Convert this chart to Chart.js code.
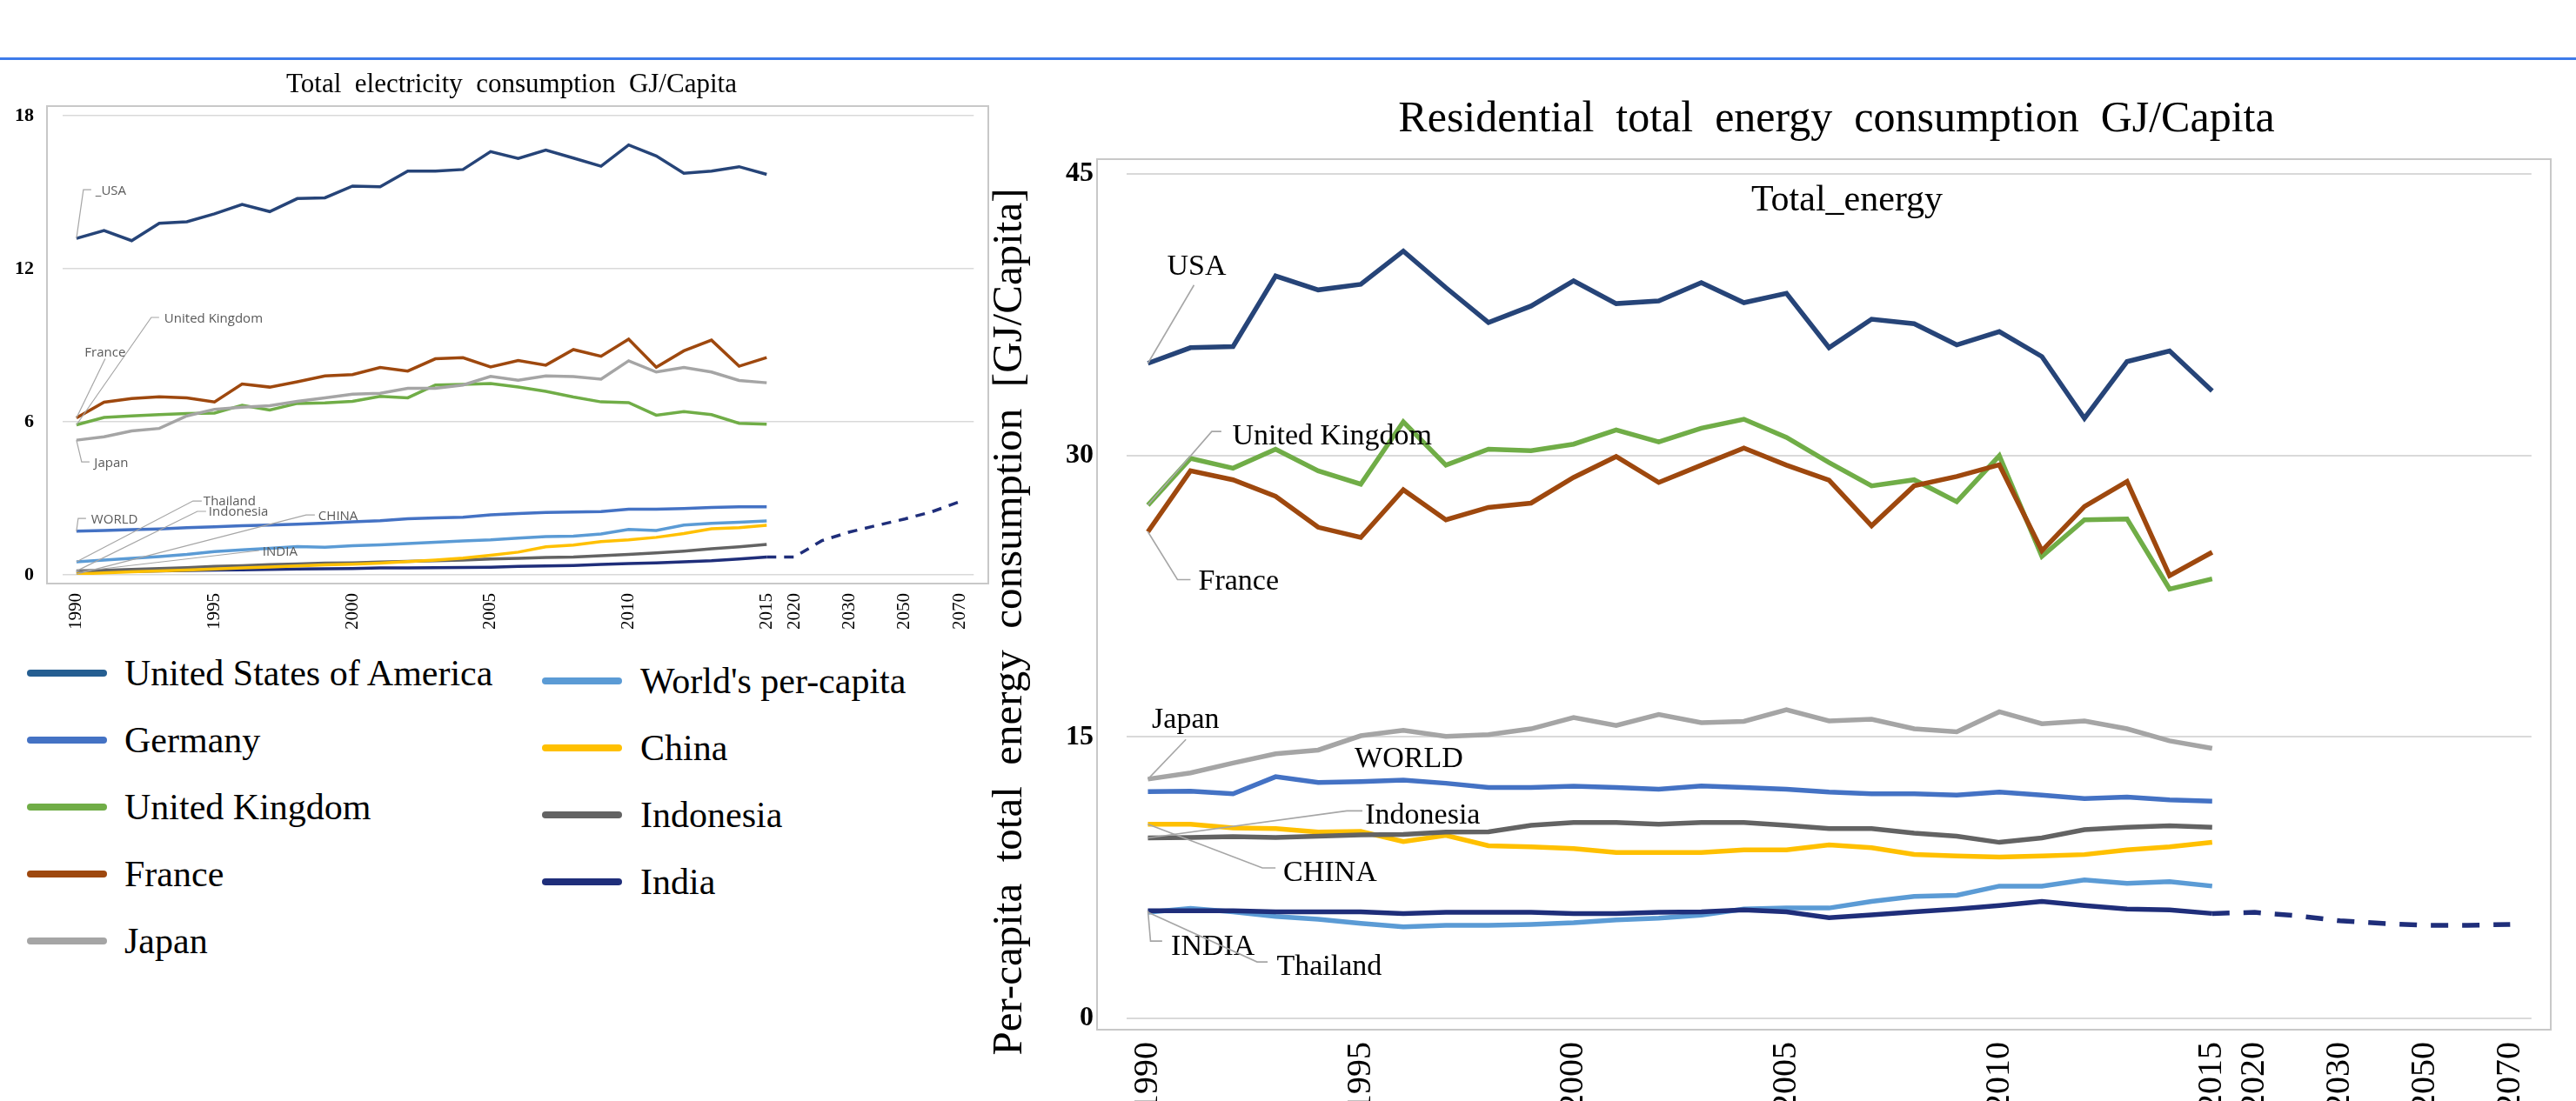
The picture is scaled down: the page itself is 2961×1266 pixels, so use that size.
<!DOCTYPE html>
<html><head><meta charset="utf-8">
<script src="https://cdn.jsdelivr.net/npm/chart.js@4.4.0/dist/chart.umd.min.js"></script>
<style>
html,body{margin:0;padding:0;background:#fff;}
body{width:2961px;height:1266px;position:relative;overflow:hidden;font-family:"Liberation Serif","Times New Roman",serif;}
.abs{position:absolute;}
.txt{position:absolute;white-space:pre;line-height:1;color:#000;font-family:"Liberation Serif","Times New Roman",serif;}
</style></head><body>
<div class="abs" style="left:0;top:66px;width:2961px;height:3px;background:#3D7BEA"></div>
<div class="abs" style="left:53px;top:121px;width:1084px;height:551px;border:2px solid #C8C8C8;box-sizing:border-box"></div>
<div class="abs" style="left:1260px;top:182px;width:1673px;height:1003px;border:2px solid #C8C8C8;box-sizing:border-box"></div>
<canvas id="cL" class="abs" width="1150" height="740" style="left:0;top:0;width:1150px;height:740px"></canvas>
<canvas id="cR" class="abs" width="1761" height="1266" style="left:1200px;top:0;width:1761px;height:1266px"></canvas>
<div id="texts"></div>
<script>
// ---------------- DATA ----------------
const years = ['1990','1991','1992','1993','1994','1995','1996','1997','1998','1999','2000','2001','2002','2003','2004','2005','2006','2007','2008','2009','2010','2011','2012','2013','2014','2015','2020','2025','2030','2040','2050','2060','2070'];
const shownYears = ['1990','1995','2000','2005','2010','2015','2020','2030','2050','2070'];

// Left chart: Total electricity consumption GJ/Capita (1990-2015)
const elecUSA = [13.19,13.5,13.1,13.78,13.84,14.15,14.52,14.24,14.75,14.78,15.24,15.21,15.83,15.83,15.89,16.59,16.32,16.65,16.34,16.02,16.85,16.42,15.74,15.83,16.0,15.7];
const elecUK = [5.88,6.17,6.23,6.28,6.32,6.34,6.65,6.46,6.72,6.74,6.8,7.0,6.94,7.44,7.47,7.5,7.36,7.19,6.97,6.78,6.75,6.26,6.4,6.28,5.94,5.91];
const elecFrance = [6.15,6.77,6.91,6.98,6.94,6.78,7.48,7.36,7.57,7.8,7.85,8.13,7.99,8.47,8.51,8.15,8.4,8.22,8.83,8.57,9.24,8.14,8.78,9.2,8.18,8.52];
const elecJapan = [5.28,5.41,5.64,5.74,6.23,6.49,6.57,6.63,6.8,6.94,7.08,7.12,7.31,7.31,7.44,7.78,7.63,7.8,7.77,7.67,8.39,7.95,8.13,7.95,7.62,7.53];
const elecWorld = [1.71,1.74,1.77,1.8,1.85,1.88,1.93,1.95,1.99,2.03,2.08,2.12,2.2,2.23,2.26,2.35,2.4,2.45,2.46,2.48,2.57,2.57,2.6,2.64,2.67,2.67];
const elecThailand = [0.51,0.58,0.65,0.72,0.8,0.91,0.98,1.04,1.11,1.08,1.14,1.18,1.23,1.28,1.33,1.37,1.44,1.5,1.52,1.6,1.78,1.74,1.95,2.02,2.06,2.11];
const elecChina = [0.03,0.08,0.12,0.15,0.19,0.23,0.27,0.31,0.35,0.39,0.42,0.46,0.52,0.58,0.66,0.77,0.89,1.1,1.17,1.3,1.37,1.47,1.62,1.81,1.85,1.94];
const elecIndonesia = [0.15,0.18,0.21,0.25,0.28,0.33,0.36,0.4,0.43,0.46,0.47,0.5,0.53,0.55,0.58,0.62,0.65,0.68,0.7,0.75,0.8,0.86,0.93,1.02,1.1,1.19];
const elecIndia = [0.12,0.13,0.14,0.15,0.17,0.19,0.2,0.21,0.23,0.24,0.25,0.27,0.27,0.28,0.29,0.3,0.33,0.35,0.37,0.41,0.44,0.47,0.51,0.55,0.62,0.7];
const elecIndiaProj = [0.7,0.7,1.34,1.68,1.94,2.19,2.48,2.87]; // 2015 .. 2070

// Right chart: Residential total energy consumption GJ/Capita (1990-2015)
const totUSA = [34.91,35.74,35.8,39.56,38.82,39.12,40.89,38.94,37.08,37.96,39.3,38.09,38.23,39.21,38.14,38.64,35.74,37.26,37.02,35.89,36.6,35.27,31.98,35.0,35.57,33.44];
const totUK = [27.35,29.84,29.32,30.33,29.18,28.47,31.79,29.48,30.33,30.25,30.6,31.36,30.72,31.45,31.93,30.96,29.62,28.38,28.7,27.53,29.98,24.62,26.57,26.61,22.88,23.42];
const totFrance = [25.93,29.18,28.7,27.82,26.17,25.63,28.17,26.57,27.23,27.46,28.83,29.94,28.56,29.48,30.39,29.48,28.68,26.25,28.38,28.88,29.5,24.92,27.28,28.61,23.59,24.84];
const totJapan = [12.75,13.08,13.61,14.1,14.3,15.06,15.35,15.03,15.12,15.43,16.03,15.61,16.19,15.76,15.83,16.45,15.85,15.94,15.43,15.27,16.34,15.7,15.85,15.43,14.79,14.39];
const totWorld = [12.08,12.11,11.97,12.88,12.57,12.62,12.7,12.53,12.3,12.3,12.37,12.3,12.21,12.39,12.3,12.21,12.06,11.97,11.97,11.9,12.06,11.9,11.71,11.79,11.64,11.57];
const totIndonesia = [9.62,9.64,9.69,9.64,9.71,9.78,9.8,9.93,9.94,10.29,10.44,10.44,10.35,10.44,10.44,10.29,10.11,10.11,9.87,9.71,9.38,9.62,10.06,10.18,10.26,10.18];
const totChina = [10.35,10.35,10.15,10.11,9.93,9.96,9.42,9.75,9.2,9.14,9.05,8.84,8.84,8.84,8.98,8.98,9.24,9.09,8.74,8.65,8.6,8.65,8.73,8.98,9.14,9.38];
const totThailand = [5.65,5.86,5.68,5.43,5.28,5.06,4.88,4.96,4.96,5.01,5.1,5.25,5.34,5.5,5.83,5.88,5.88,6.23,6.5,6.56,7.05,7.05,7.38,7.2,7.29,7.05];
const totIndia = [5.74,5.74,5.74,5.68,5.68,5.68,5.59,5.65,5.65,5.65,5.59,5.59,5.65,5.68,5.78,5.68,5.37,5.52,5.68,5.83,6.01,6.23,6.01,5.83,5.78,5.59];
const totIndiaProj = [5.59,5.65,5.47,5.2,5.06,4.96,4.96,5.01]; // 2015 .. 2070

const leftTicks = [0, 6, 12, 18];
const rightTicks = [0, 15, 30, 45];

const legendCol1 = ['United States of America','Germany','United Kingdom','France','Japan'];
const legendCol2 = ["World's per-capita",'China','Indonesia','India'];

// ---------------- STYLE ----------------
const C = {usa:'#264478', world:'#4472C4', uk:'#70AD47', fr:'#9E480E', jp:'#A5A5A5', th:'#5B9BD5', cn:'#FFC000', id:'#636363', in:'#1F2E7A'};
const legendColors1 = ['#255E91','#4472C4','#70AD47','#9E480E','#A5A5A5'];
const legendColors2 = ['#5B9BD5','#FFC000','#636363','#1F2E7A'];
const SERIF = '"Liberation Serif","Times New Roman",serif';

function proj(arr){ const out = new Array(25).fill(null); return out.concat(arr); }

function ds(label, data, color, w, dash){
  return {label, data, borderColor:color, backgroundColor:color, borderWidth:w, pointRadius:0, pointHoverRadius:0, tension:0, fill:false, spanGaps:false, borderDash: dash||[], borderCapStyle:'butt', borderJoinStyle:'miter'};
}

const calloutPlugin = {
  id:'callouts',
  afterDatasetsDraw(chart, args, opts){
    const ctx = chart.ctx;
    ctx.save();
    (opts.items||[]).forEach(it=>{
      const idx = chart.data.datasets.findIndex(d=>d.label===it.ds);
      const pt = chart.getDatasetMeta(idx).data[0];
      const x = pt.x, y = pt.y;
      if (it.path){
        ctx.beginPath();
        ctx.strokeStyle = opts.lineColor; ctx.lineWidth = opts.lineWidth;
        it.path.forEach((p,i)=>{ const px=x+p[0], py=y+p[1]; if(i===0) ctx.moveTo(px,py); else ctx.lineTo(px,py); });
        ctx.stroke();
      }
      ctx.font = opts.font; ctx.fillStyle = opts.color; ctx.textAlign='left'; ctx.textBaseline='alphabetic';
      ctx.fillText(it.text, x+it.tx, y+it.ty);
    });
    ctx.restore();
  }
};

const xTickCb = function(v, i){ return shownYears.includes(years[i]) ? years[i] : ''; };

// ---------------- LEFT CHART ----------------
new Chart(document.getElementById('cL'), {
  type:'line',
  data:{ labels: years, datasets:[
    ds('USA', elecUSA, C.usa, 3.5),
    ds('France', elecFrance, C.fr, 3.5),
    ds('Japan', elecJapan, C.jp, 3.5),
    ds('United Kingdom', elecUK, C.uk, 3.5),
    ds('WORLD', elecWorld, C.world, 3.5),
    ds('Thailand', elecThailand, C.th, 3.5),
    ds('CHINA', elecChina, C.cn, 3.5),
    ds('Indonesia', elecIndonesia, C.id, 3.5),
    ds('INDIA', elecIndia, C.in, 3.5),
    ds('India projection', proj(elecIndiaProj), C.in, 3.5, [11,9])
  ]},
  options:{
    responsive:false, animation:false, devicePixelRatio:1,
    layout:{padding:{left:0, right:24, top:133, bottom:0}},
    plugins:{legend:{display:false}, tooltip:{enabled:false}, title:{display:false},
      callouts:{font:'15px "Open Sans", sans-serif', color:'#595959', lineColor:'#A6A6A6', lineWidth:1.2, items:[
        {ds:'USA', text:'_USA', path:[[0,0],[8,-56],[17,-56]], tx:22, ty:-50},
        {ds:'United Kingdom', text:'United Kingdom', path:[[0,0],[86,-123.5],[95,-123.5]], tx:101, ty:-118},
        {ds:'France', text:'France', path:[[0,0],[33,-68]], tx:9.5, ty:-70.5},
        {ds:'Japan', text:'Japan', path:[[0,0],[6,25],[15,25]], tx:20.5, ty:31},
        {ds:'WORLD', text:'WORLD', path:[[0,0],[2,-14.8],[11,-14.8]], tx:17, ty:-8.8},
        {ds:'Thailand', text:'Thailand', path:[[0,0],[134,-70],[144,-70]], tx:146, ty:-65},
        {ds:'Indonesia', text:'Indonesia', path:[[0,0],[139,-68.6],[149,-68.6]], tx:152, ty:-63.6},
        {ds:'CHINA', text:'CHINA', path:[[0,0],[264,-68],[274,-68]], tx:278, ty:-62},
        {ds:'INDIA', text:'INDIA', path:[[0,0],[210,-24.5]], tx:214, ty:-18.5}
      ]}
    },
    scales:{
      x:{type:'category', offset:true,
        grid:{display:false, drawTicks:false}, border:{display:false},
        ticks:{autoSkip:false, minRotation:90, maxRotation:90, padding:21, color:'#000', font:{family:SERIF, size:21}, callback:xTickCb},
        afterFit(s){ s.height = 79; }
      },
      y:{min:0, max:18,
        grid:{color:'#D9D9D9', lineWidth:1.5, drawTicks:false}, border:{display:false},
        afterBuildTicks(s){ s.ticks = leftTicks.map(v=>({value:v})); },
        ticks:{padding:33, color:'#000', font:{family:SERIF, size:22, weight:'bold'}},
        afterFit(s){ s.width = 72; }
      }
    }
  },
  plugins:[calloutPlugin]
});

// ---------------- RIGHT CHART ----------------
new Chart(document.getElementById('cR'), {
  type:'line',
  data:{ labels: years, datasets:[
    ds('USA', totUSA, C.usa, 5.5),
    ds('France', totFrance, C.fr, 5.5),
    ds('United Kingdom', totUK, C.uk, 5.5),
    ds('Japan', totJapan, C.jp, 5.5),
    ds('WORLD', totWorld, C.world, 5.5),
    ds('Indonesia', totIndonesia, C.id, 5.5),
    ds('CHINA', totChina, C.cn, 5.5),
    ds('INDIA', totIndia, C.in, 5.5),
    ds('Thailand', totThailand, C.th, 5.5),
    ds('India projection', proj(totIndiaProj), C.in, 5.5, [20,16])
  ]},
  options:{
    responsive:false, animation:false, devicePixelRatio:1,
    layout:{padding:{left:0, right:45, top:200, bottom:0}},
    plugins:{legend:{display:false}, tooltip:{enabled:false}, title:{display:false},
      callouts:{font:'34px ' + SERIF, color:'#000', lineColor:'#A6A6A6', lineWidth:1.6, items:[
        {ds:'USA', text:'USA', path:[[0,0],[53,-90]], tx:22, ty:-101.6},
        {ds:'United Kingdom', text:'United Kingdom', path:[[0,0],[73.4,-84.7],[84.4,-84.7]], tx:97, ty:-69.7},
        {ds:'France', text:'France', path:[[0,0],[34,55],[49,55]], tx:58, ty:67},
        {ds:'Japan', text:'Japan', path:[[0,0],[43.7,-45.6]], tx:4.6, ty:-59},
        {ds:'WORLD', text:'WORLD', path:null, tx:237.6, ty:-28},
        {ds:'Indonesia', text:'Indonesia', path:[[0,0],[228.6,-31],[246.6,-31]], tx:249.8, ty:-16},
        {ds:'CHINA', text:'CHINA', path:[[0,0],[131.6,50.4],[146.7,50.4]], tx:155.6, ty:65.7},
        {ds:'INDIA', text:'INDIA', path:[[0,0],[3,35],[16.4,35]], tx:26.6, ty:51},
        {ds:'Thailand', text:'Thailand', path:[[0,0],[125.5,57],[137.6,57]], tx:148, ty:72}
      ]}
    },
    scales:{
      x:{type:'category', offset:true,
        grid:{display:false, drawTicks:false}, border:{display:false},
        ticks:{autoSkip:false, minRotation:90, maxRotation:90, padding:27, color:'#000', font:{family:SERIF, size:40}, callback:xTickCb},
        afterFit(s){ s.height = 95; }
      },
      y:{min:0, max:45,
        grid:{color:'#D9D9D9', lineWidth:2, drawTicks:false}, border:{display:false},
        afterBuildTicks(s){ s.ticks = rightTicks.map(v=>({value:v})); },
        ticks:{padding:38, color:'#000', font:{family:SERIF, size:32, weight:'bold'}},
        afterFit(s){ s.width = 95; }
      }
    }
  },
  plugins:[calloutPlugin]
});

// ---------------- HTML TEXT (titles, axis title, legend) ----------------
const host = document.getElementById('texts');
function txt(str, size, baseline, opt){
  const d = document.createElement('div');
  d.className = 'txt'; d.textContent = str; d.style.fontSize = size+'px';
  d.style.top = (baseline - 0.8375*size) + 'px';
  if (opt.cx !== undefined){ d.style.left=(opt.cx-1500)+'px'; d.style.width='3000px'; d.style.textAlign='center'; }
  else d.style.left = opt.x + 'px';
  host.appendChild(d); return d;
}
txt('Total  electricity  consumption  GJ/Capita', 31, 106, {cx:588});
txt('Residential  total  energy  consumption  GJ/Capita', 50, 151, {cx:2111});
txt('Total_energy', 42, 242, {cx:2123});

// rotated y-axis title for right chart
(function(){
  const d = document.createElement('div');
  d.className='txt'; d.textContent='Per-capita  total  energy  consumption  [GJ/Capita]';
  d.style.fontSize='49px'; d.style.lineHeight='60px'; d.style.width='1100px'; d.style.height='60px'; d.style.textAlign='center';
  d.style.left=(1158.4-550)+'px'; d.style.top=(715-30)+'px'; d.style.transform='rotate(-90deg)';
  host.appendChild(d);
})();

// legend
function legendItem(label, color, sx, cy, tx){
  const s = document.createElement('div');
  s.className='abs'; s.style.left=sx+'px'; s.style.top=(cy-4)+'px'; s.style.width='92px'; s.style.height='8px';
  s.style.borderRadius='4px'; s.style.background=color; host.appendChild(s);
  txt(label, 42, cy+14, {x:tx});
}
legendCol1.forEach((l,i)=>legendItem(l, legendColors1[i], 31, 774+i*77, 143));
legendCol2.forEach((l,i)=>legendItem(l, legendColors2[i], 623, 783+i*77, 736));
</script>
</body></html>
